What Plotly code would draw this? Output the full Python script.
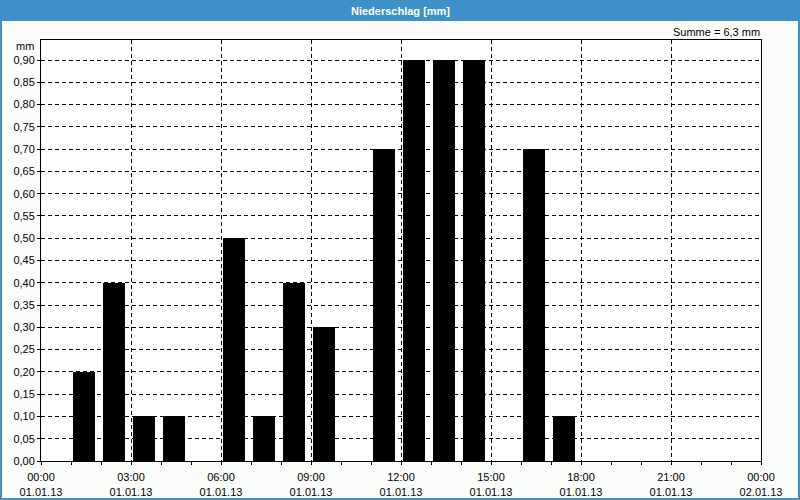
import plotly.graph_objects as go

# Data: hourly precipitation on 01.01.2013 (hour start times)
hours = ["2013-01-01 01:00", "2013-01-01 02:00", "2013-01-01 03:00", "2013-01-01 04:00",
         "2013-01-01 06:00", "2013-01-01 07:00", "2013-01-01 08:00", "2013-01-01 09:00",
         "2013-01-01 11:00", "2013-01-01 12:00", "2013-01-01 13:00", "2013-01-01 14:00",
         "2013-01-01 16:00", "2013-01-01 17:00"]
precip_mm = [0.20, 0.40, 0.10, 0.10,
             0.50, 0.10, 0.40, 0.30,
             0.70, 0.90, 0.90, 0.90,
             0.70, 0.10]
title_text = "Niederschlag [mm]"
sum_text = "Summe = 6,3 mm"
unit_text = "mm"

W, H = 800, 500
L, R, T, B = 41, 39, 40, 39
PW, PH = W - L - R, H - T - B

def xp(px):
    return (px - L) / PW

def yp(py):
    return (H - B - py) / PH

BLUE = "#3d90c8"
FONT = "Liberation Sans"

fig = go.Figure()
fig.add_trace(go.Bar(
    x=hours, y=precip_mm,
    offset=240000, width=2580000,
    marker=dict(color="#000000", line=dict(width=0)),
    hoverinfo="x+y",
))

fig.update_layout(
    width=W, height=H,
    margin=dict(l=L, r=R, t=T, b=B, pad=0, autoexpand=False),
    paper_bgcolor="#fbfdfb",
    plot_bgcolor="#ffffff",
    showlegend=False,
    separators=",.",
    font=dict(family=FONT, size=11, color="#000000"),
    bargap=0,
    xaxis=dict(
        type="date",
        automargin=False,
        range=["2013-01-01 00:00", "2013-01-02 00:00"],
        tick0="2013-01-01 00:00", dtick=3 * 3600000,
        tickformat="%H:%M<br>%d.%m.%y",
        ticklabelstandoff=3,
        showgrid=True, gridcolor="#000000", gridwidth=1, griddash="4px,3px",
        showline=True, linecolor="#000000", linewidth=1, mirror=True,
        ticks="outside", ticklen=3, tickcolor="#000000",
        minor=dict(dtick=3600000, ticks="outside", ticklen=3, tickcolor="#000000", showgrid=False),
        zeroline=False,
        fixedrange=True,
    ),
    yaxis=dict(
        automargin=False,
        range=[0, 0.945],
        tick0=0, dtick=0.05,
        tickformat=".2f",
        showgrid=True, gridcolor="#000000", gridwidth=1, griddash="4px,3px",
        showline=True, linecolor="#000000", linewidth=1, mirror=True,
        ticks="outside", ticklen=3, tickcolor="#000000",
        zeroline=False,
        fixedrange=True,
    ),
    shapes=[
        dict(type="rect", xref="paper", yref="paper",
             x0=xp(0), x1=xp(800), y0=yp(21), y1=yp(0),
             fillcolor=BLUE, line=dict(width=0), layer="above"),
        dict(type="rect", xref="paper", yref="paper",
             x0=xp(1), x1=xp(799), y0=yp(499), y1=yp(1),
             fillcolor="rgba(0,0,0,0)", line=dict(color=BLUE, width=2), layer="above"),
    ],
    annotations=[
        dict(text="<b>" + title_text + "</b>", xref="paper", yref="paper",
             x=xp(400), y=yp(10.5), xanchor="center", yanchor="middle",
             showarrow=False, font=dict(family=FONT, size=11, color="#ffffff")),
        dict(text=sum_text, xref="paper", yref="paper",
             x=xp(762), y=yp(32), xanchor="right", yanchor="middle",
             showarrow=False, font=dict(family=FONT, size=11, color="#000000")),
        dict(text=unit_text, xref="paper", yref="paper",
             x=xp(36), y=yp(46), xanchor="right", yanchor="middle",
             showarrow=False, font=dict(family=FONT, size=11, color="#000000")),
    ],
)

fig.write_html("out.html")
